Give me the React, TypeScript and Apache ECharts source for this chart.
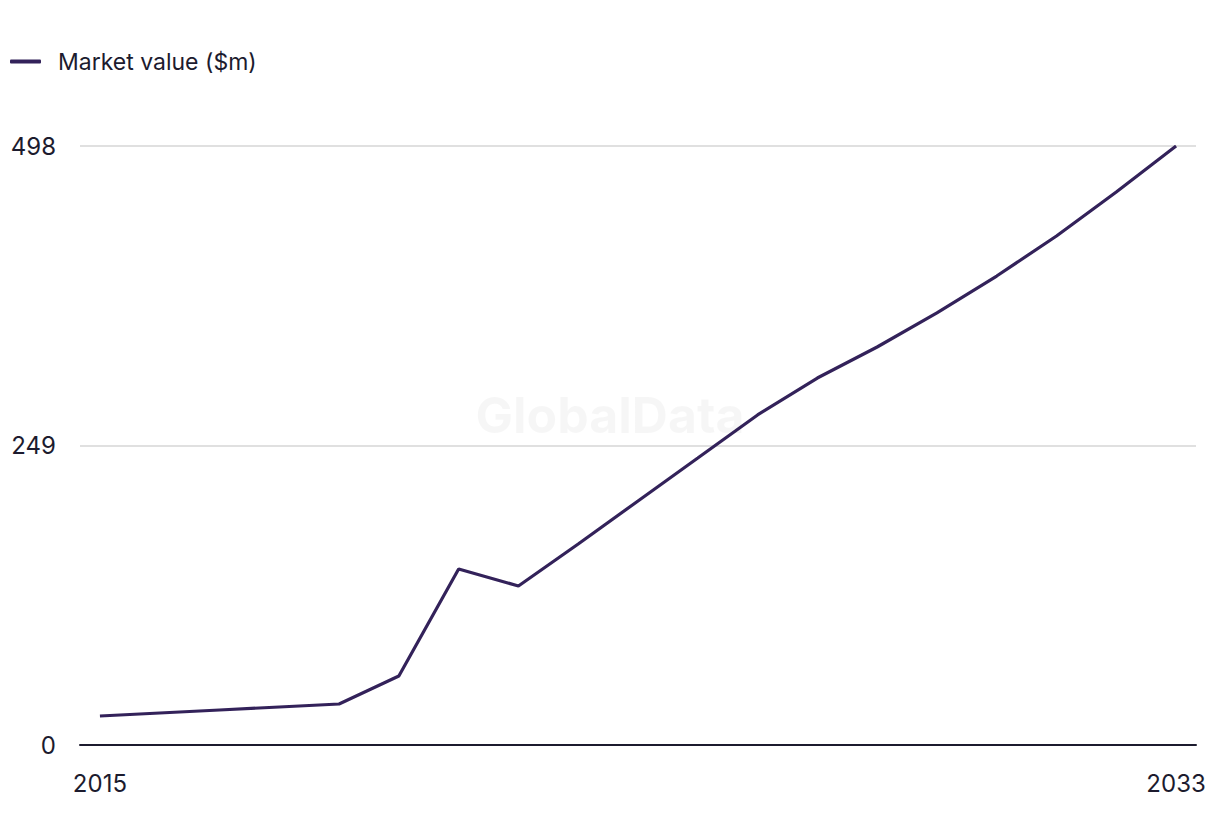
import React, { useEffect, useRef } from "react";
import * as echarts from "echarts";

const years: number[] = [2015, 2016, 2017, 2018, 2019, 2020, 2021, 2022, 2023, 2024, 2025, 2026, 2027, 2028, 2029, 2030, 2031, 2032, 2033];
const marketValue: number[] = [24.1, 26.6, 29.1, 31.6, 34.1, 57.4, 146.3, 132.2, 167.1, 202.9, 238.6, 274.4, 305.1, 330.9, 359.2, 389.9, 423.2, 459.8, 498];
const yTicks: number[] = [0, 249, 498];
const xLabelYears: number[] = [2015, 2033];
const seriesName = "Market value ($m)";

const FONT = "Inter, 'Noto Sans', sans-serif";
const TEXT = "#1c1b2e";
const LINE = "#33225a";

export default function App() {
  const ref = useRef<HTMLDivElement>(null);
  useEffect(() => {
    document.body.style.margin = "0";
    if (!ref.current) return;
    const chart = echarts.init(ref.current, undefined, { renderer: "svg" });
    chart.setOption({
      animation: false,
      backgroundColor: "#ffffff",
      textStyle: { fontFamily: FONT, color: TEXT },
      legend: {
        left: 5,
        top: 45,
        icon: "roundRect",
        itemWidth: 31,
        itemHeight: 4,
        textStyle: { fontSize: 23, color: TEXT, fontFamily: FONT, padding: [0, 0, 0, 12] },
        data: [seriesName],
      },
      grid: { left: 80, right: 24, top: 146, bottom: 91, containLabel: false },
      xAxis: {
        type: "value",
        min: 2015 - 1 / 3,
        max: 2033 + 1 / 3,
        splitLine: { show: false },
        axisLine: { show: true, onZero: false, lineStyle: { color: TEXT, width: 2 } },
        axisTick: { show: false },
        axisLabel: {
          customValues: xLabelYears,
          fontSize: 24,
          color: TEXT,
          fontFamily: FONT,
          margin: 26,
          formatter: (v: number) => String(Math.round(v)),
        },
      },
      yAxis: {
        type: "value",
        min: yTicks[0],
        max: yTicks[yTicks.length - 1],
        interval: yTicks[1] - yTicks[0],
        axisLine: { show: false },
        axisTick: { show: false },
        splitLine: {
          show: true,
          lineStyle: { color: "#d6d6d6", width: 1.5 },
        },
        axisLabel: { fontSize: 24, color: TEXT, fontFamily: FONT, margin: 24 },
      },
      series: [
        {
          name: seriesName,
          type: "line",
          data: years.map((y, i) => [y, marketValue[i]]),
          showSymbol: false,
          symbol: "none",
          lineStyle: { color: LINE, width: 3.2 },
          itemStyle: { color: LINE },
          z: 3,
        },
      ],
      graphic: [
        {
          type: "text",
          x: 610,
          y: 415,
          z: 100,
          silent: true,
          style: {
            text: "GlobalData",
            fontFamily: FONT,
            fontWeight: "bold",
            fontSize: 50,
            fill: "rgba(0,0,0,0.035)",
            align: "center",
            verticalAlign: "middle",
          },
        },
      ],
    });
    return () => chart.dispose();
  }, []);
  return <div ref={ref} style={{ width: 1220, height: 836 }} />;
}
